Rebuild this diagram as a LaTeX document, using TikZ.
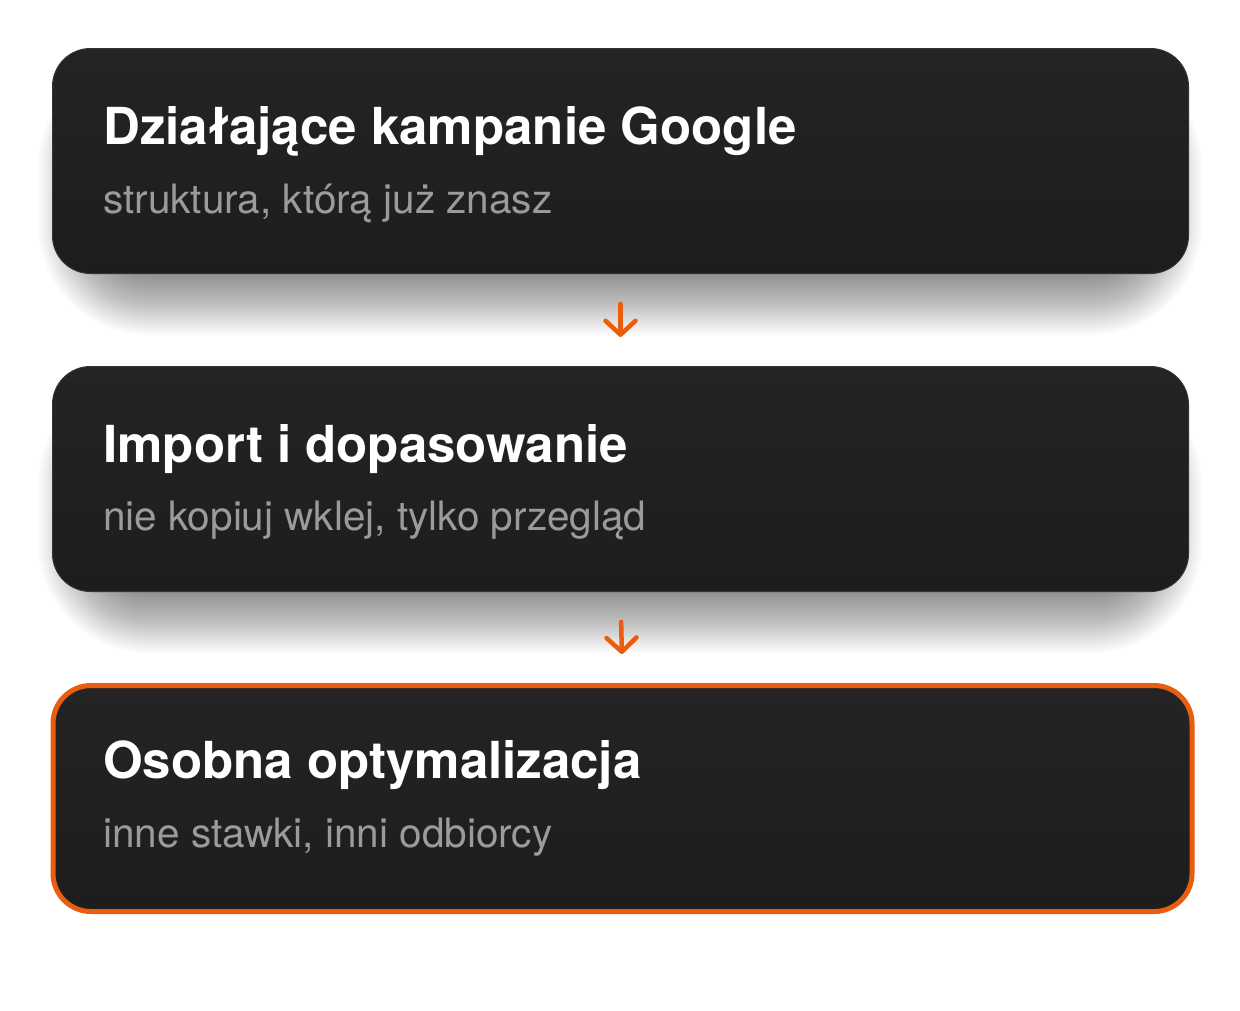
\documentclass[tikz,border=0pt]{standalone}
\usepackage{fontspec}
\setmainfont{TeX Gyre Heros}
\usetikzlibrary{arrows.meta,positioning}
\definecolor{kartaA}{HTML}{242424}
\definecolor{kartaB}{HTML}{1D1D1D}
\definecolor{ramka}{HTML}{333333}
\definecolor{pomarancz}{HTML}{EA5D0E}
\definecolor{szary}{HTML}{9B9B9B}
\tikzset{
  karta/.style={rectangle, rounded corners=38pt, draw=ramka, line width=1pt,
    top color=kartaA, bottom color=kartaB, minimum width=1136pt, minimum height=225pt,
    inner sep=0pt, anchor=north west},
  tytul/.style={anchor=base west, inner sep=0pt, text=white, font=\bfseries\fontsize{51}{60}\selectfont},
  opis/.style={anchor=base west, inner sep=0pt, text=szary, font=\fontsize{40.5}{48}\selectfont},
  strzalka/.style={draw=pomarancz, line width=4.5pt, line cap=round,
    -{Straight Barb[length=14pt, width=30pt, round]}, shorten <=30pt, shorten >=29pt}
}
\begin{document}
\begin{tikzpicture}[x=1pt,y=-1pt]
	\useasboundingbox[fill=white] (0,0) rectangle (1240,1010);

	% soft shadows below the first two cards
	\foreach \y in {48, 366}
	\foreach \r in {0,2,...,72}
	\fill[black, opacity=0.017, rounded corners=38pt+\r pt] (110-\r, \y+80-\r) rectangle (1130+\r, \y+215+\r);

	\node[karta] (k1) at (52,48) {};
	\node[karta] (k2) at (52,366) {};
	\node[karta, draw=pomarancz, line width=5pt, minimum width=1139pt, minimum height=226pt] (k3) at (50.5,683) {};

	\node[tytul] (t1) at (103,144) {Działające kampanie Google};
	\node[opis] (o1) at (103,213) {struktura, którą już znasz};

	\node[tytul] (t2) at (103,462) {Import i dopasowanie};
	\node[opis] (o2) at (103,530) {nie kopiuj wklej, tylko przegląd};

	\node[tytul] (t3) at (103,778) {Osobna optymalizacja};
	\node[opis] (o3) at (103,847) {inne stawki, inni odbiorcy};

	\draw[strzalka] (k1.south) -- (k2.north);
	\draw[strzalka] (k2.south) -- (k3.north);
\end{tikzpicture}
\end{document}
